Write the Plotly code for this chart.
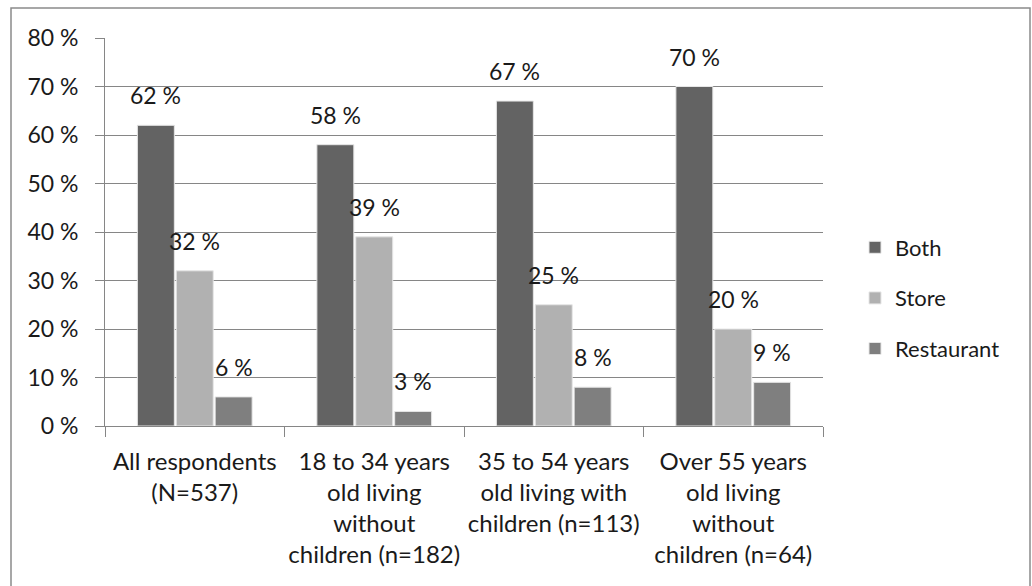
import plotly.graph_objects as go

# Survey results: share of respondents by where they buy
categories = [
    "All respondents<br>(N=537)",
    "18 to 34 years<br>old living<br>without<br>children (n=182)",
    "35 to 54 years<br>old living with<br>children (n=113)",
    "Over 55 years<br>old living<br>without<br>children (n=64)",
]
both = [62, 58, 67, 70]
store = [32, 39, 25, 20]
restaurant = [6, 3, 8, 9]

series = [
    ("Both", both, "#636363"),
    ("Store", store, "#b1b1b1"),
    ("Restaurant", restaurant, "#7f7f7f"),
]

FONT = "Lato"
TXT = "#1a1a1a"
W, H = 1032, 586
ML, MR, MT, MB = 105, 209, 38, 160
plot_w = W - ML - MR
plot_h = H - MT - MB

BARGAP = 0.35
GROUPGAP = 0.05

fig = go.Figure()
for name, vals, color in series:
    fig.add_trace(go.Bar(
        x=categories, y=vals, name=name,
        marker=dict(color=color, line=dict(color="#e6e6e6", width=1)),
        legendgroup=name,
    ))

# value labels above each bar, shifted to the bar's slot within the group
cat_px = plot_w / len(categories)
slot_px = cat_px * (1 - BARGAP) / len(series)
for i, (name, vals, color) in enumerate(series):
    shift = (i - (len(series) - 1) / 2) * slot_px
    for c, v in zip(categories, vals):
        fig.add_annotation(
            x=c, y=v, xref="x", yref="y", text=f"{v} %",
            showarrow=False, xshift=shift, yshift=14, yanchor="bottom",
            font=dict(family=FONT, size=23, color=TXT),
        )

# outer chart border
px_to_x = lambda p: (p - ML) / plot_w
px_to_y = lambda p: (H - MB - p) / plot_h
fig.add_shape(
    type="rect", xref="paper", yref="paper",
    x0=px_to_x(11), x1=px_to_x(1030), y0=px_to_y(600), y1=px_to_y(8),
    line=dict(color="#8a8a8a", width=1.5), fillcolor="rgba(0,0,0,0)", layer="below",
)

fig.update_layout(
    width=W, height=H,
    margin=dict(l=ML, r=MR, t=MT, b=MB, autoexpand=False),
    paper_bgcolor="white", plot_bgcolor="white",
    barmode="group", bargap=BARGAP, bargroupgap=GROUPGAP,
    font=dict(family=FONT, size=23, color=TXT),
    legend=dict(
        x=(855 - ML) / plot_w, y=px_to_y(298), xanchor="left", yanchor="middle",
        font=dict(family=FONT, size=22, color=TXT),
        tracegroupgap=19, bgcolor="rgba(0,0,0,0)",
    ),
    xaxis=dict(
        showline=True, linecolor="#868686", linewidth=1,
        ticks="outside", tickson="boundaries", ticklen=10, tickcolor="#868686",
        ticklabelstandoff=14, tickangle=0,
        showgrid=False, tickfont=dict(family=FONT, size=24, color=TXT),
    ),
    yaxis=dict(
        range=[0, 80], dtick=10, ticksuffix=" %",
        showline=True, linecolor="#868686", linewidth=1,
        ticks="outside", ticklen=9, tickcolor="#868686",
        ticklabelstandoff=12,
        showgrid=True, gridcolor="#868686", gridwidth=1,
        zeroline=False,
        tickfont=dict(family=FONT, size=23, color=TXT),
    ),
)

fig.write_html("out.html")
